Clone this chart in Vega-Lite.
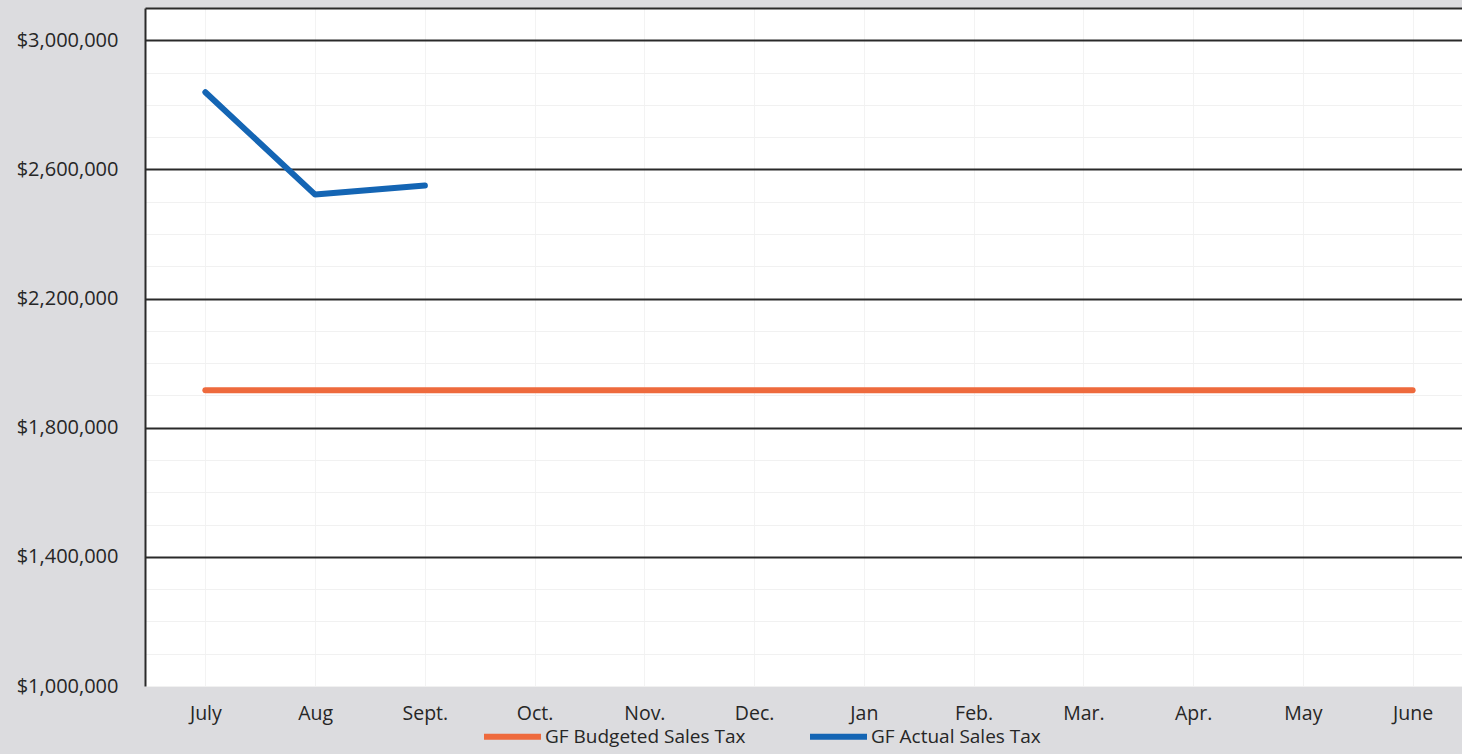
{
  "$schema": "https://vega.github.io/schema/vega-lite/v6.json",
  "autosize": {"type": "none"},
  "padding": {"left": 145, "top": 8, "right": 0, "bottom": 68},
  "width": 1317,
  "height": 678,
  "background": "#dcdcdf",
  "config": {
    "view": {"fill": "white", "stroke": null},
    "font": "Open Sans"
  },
  "data": {
    "values": [
      {"month": "July", "series": "GF Budgeted Sales Tax", "amount": 1916000},
      {"month": "Aug", "series": "GF Budgeted Sales Tax", "amount": 1916000},
      {"month": "Sept.", "series": "GF Budgeted Sales Tax", "amount": 1916000},
      {"month": "Oct.", "series": "GF Budgeted Sales Tax", "amount": 1916000},
      {"month": "Nov.", "series": "GF Budgeted Sales Tax", "amount": 1916000},
      {"month": "Dec.", "series": "GF Budgeted Sales Tax", "amount": 1916000},
      {"month": "Jan", "series": "GF Budgeted Sales Tax", "amount": 1916000},
      {"month": "Feb.", "series": "GF Budgeted Sales Tax", "amount": 1916000},
      {"month": "Mar.", "series": "GF Budgeted Sales Tax", "amount": 1916000},
      {"month": "Apr.", "series": "GF Budgeted Sales Tax", "amount": 1916000},
      {"month": "May", "series": "GF Budgeted Sales Tax", "amount": 1916000},
      {"month": "June", "series": "GF Budgeted Sales Tax", "amount": 1916000},
      {"month": "July", "series": "GF Actual Sales Tax", "amount": 2839000},
      {"month": "Aug", "series": "GF Actual Sales Tax", "amount": 2522000},
      {"month": "Sept.", "series": "GF Actual Sales Tax", "amount": 2550000}
    ]
  },
  "mark": {"type": "line", "strokeWidth": 6, "strokeCap": "round", "strokeJoin": "round"},
  "encoding": {
    "x": {
      "field": "month",
      "type": "nominal",
      "sort": ["July", "Aug", "Sept.", "Oct.", "Nov.", "Dec.", "Jan", "Feb.", "Mar.", "Apr.", "May", "June"],
      "scale": {"type": "point", "paddingOuter": 0.46, "align": 0.55},
      "axis": {
        "title": null,
        "labelAngle": 0,
        "labelFontSize": 19.5,
        "labelColor": "#262626",
        "labelPadding": 18,
        "ticks": false,
        "domain": false,
        "grid": true,
        "gridColor": "#f3f3f3",
        "gridWidth": 1
      }
    },
    "y": {
      "field": "amount",
      "type": "quantitative",
      "scale": {"domain": [1000000, 3100000], "nice": false, "zero": false},
      "axis": {
        "title": null,
        "values": [1000000, 1100000, 1200000, 1300000, 1400000, 1500000, 1600000, 1700000, 1800000, 1900000, 2000000, 2100000, 2200000, 2300000, 2400000, 2500000, 2600000, 2700000, 2800000, 2900000, 3000000, 3100000],
        "labelExpr": "(datum.value - 1000000) % 400000 === 0 ? '$' + format(datum.value, ',') : ''",
        "labelFontSize": 20,
        "labelColor": "#262626",
        "labelPadding": 27,
        "ticks": false,
        "tickSize": 0,
        "domain": true,
        "domainColor": "#2a2a2a",
        "domainWidth": 2,
        "grid": true,
        "gridColor": {"condition": {"test": "datum.value > 1000000 && ((datum.value - 1000000) % 400000 === 0 || datum.value === 3100000)", "value": "#2a2a2a"}, "value": "#f1f1f1"},
        "gridWidth": {"condition": {"test": "datum.value > 1000000 && ((datum.value - 1000000) % 400000 === 0 || datum.value === 3100000)", "value": 2}, "value": 1}
      }
    },
    "color": {
      "field": "series",
      "type": "nominal",
      "scale": {"domain": ["GF Budgeted Sales Tax", "GF Actual Sales Tax"], "range": ["#ee6a3d", "#1465b4"]},
      "legend": {
        "title": null,
        "orient": "none",
        "direction": "horizontal",
        "legendX": 336,
        "legendY": 697,
        "padding": 0,
        "symbolType": "stroke",
        "symbolSize": 3249,
        "symbolStrokeWidth": 6,
        "labelFontSize": 19,
        "labelColor": "#262626",
        "labelLimit": 0,
        "labelOffset": 1,
        "columnPadding": 52
      }
    }
  }
}
